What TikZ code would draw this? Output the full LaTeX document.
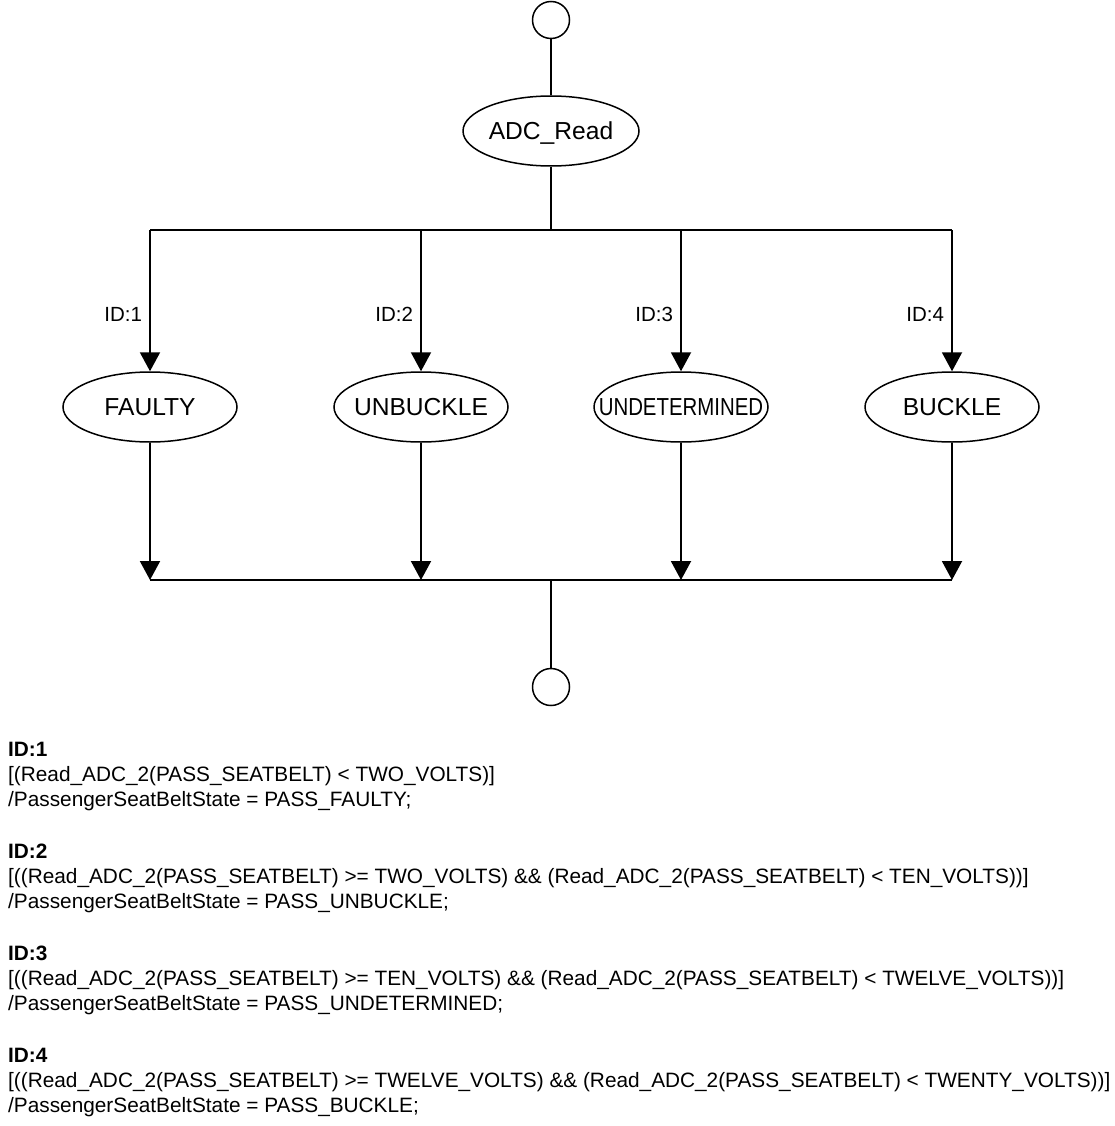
\documentclass[tikz,border=0pt]{standalone}
\usepackage{fontspec}
\setmainfont{Liberation Sans}
\usetikzlibrary{shapes.geometric,arrows.meta}

\newcommand{\stname}[1]{\makebox[0pt]{#1}}

\tikzset{
	statenode/.style = {draw, ellipse, line width=1.5pt, minimum width=174pt, minimum height=70pt,
		inner sep=0pt, font=\fontsize{24.6}{28}\selectfont, text height=17.5pt, text depth=0pt},
	pseudo/.style = {draw, circle, line width=1.5pt, minimum size=37pt, inner sep=0pt},
	flow/.style = {line width=2pt},
	tip/.style = {-{Triangle[width=20pt,length=19pt]}},
	guard/.style = {font=\fontsize{20.5}{24}\selectfont, inner sep=0pt, anchor=east, xshift=-7pt},
	cond/.style = {font=\fontsize{20.8}{24}\selectfont, inner sep=0pt, anchor=base west},
}

\begin{document}
\begin{tikzpicture}[x=1pt, y=-1pt]
	\useasboundingbox (0,0) rectangle (1115,1126);
	% states
	\node [pseudo] (init) at (551,20) {};
	\node [statenode, minimum width=176pt] (adc) at (551,131) {\stname{ADC\_Read}};
	\node [statenode] (faulty) at (150,407) {\stname{FAULTY}};
	\node [statenode] (unbuckle) at (421,407) {\stname{UNBUCKLE}};
	\node [statenode] (undet) at (681,407) {\stname{\scalebox{0.83}[1]{UNDETERMINED}}};
	\node [statenode] (buckle) at (952,407) {\stname{BUCKLE}};
	\node [pseudo] (final) at (551,687) {};
	% fork and join bars
	\coordinate (split) at (551,230);
	\coordinate (join) at (551,580);
	\draw [flow] (init) -- (adc);
	\draw [flow] (adc) -- (split);
	\draw [flow] (faulty |- split) -- (buckle |- split);
	\draw [flow] (faulty |- join) -- (buckle |- join);
	\draw [flow] (join) -- (final);
	% transitions
	\draw [flow, tip] (faulty |- split) -- (faulty.north) node [guard, pos=0.6] {ID:1};
	\draw [flow, tip] (unbuckle |- split) -- (unbuckle.north) node [guard, pos=0.6] {ID:2};
	\draw [flow, tip] (undet |- split) -- (undet.north) node [guard, pos=0.6] {ID:3};
	\draw [flow, tip] (buckle |- split) -- (buckle.north) node [guard, pos=0.6] {ID:4};
	\draw [flow, tip] (faulty) -- (faulty |- join);
	\draw [flow, tip] (unbuckle) -- (unbuckle |- join);
	\draw [flow, tip] (undet) -- (undet |- join);
	\draw [flow, tip] (buckle) -- (buckle |- join);
	% conditions
	\node [cond, font=\fontsize{20.8}{24}\selectfont\bfseries] (id1) at (8,756) {ID:1};
	\node [cond] (guard1) at (8,781) {[(Read\_ADC\_2(PASS\_SEATBELT) < TWO\_VOLTS)]};
	\node [cond] (act1) at (8,806) {/PassengerSeatBeltState = PASS\_FAULTY;};
	\node [cond, font=\fontsize{20.8}{24}\selectfont\bfseries] (id2) at (8,858) {ID:2};
	\node [cond] (guard2) at (8,883) {[((Read\_ADC\_2(PASS\_SEATBELT) >= TWO\_VOLTS) \&\& (Read\_ADC\_2(PASS\_SEATBELT) < TEN\_VOLTS))]};
	\node [cond] (act2) at (8,908) {/PassengerSeatBeltState = PASS\_UNBUCKLE;};
	\node [cond, font=\fontsize{20.8}{24}\selectfont\bfseries] (id3) at (8,960) {ID:3};
	\node [cond] (guard3) at (8,985) {[((Read\_ADC\_2(PASS\_SEATBELT) >= TEN\_VOLTS) \&\& (Read\_ADC\_2(PASS\_SEATBELT) < TWELVE\_VOLTS))]};
	\node [cond] (act3) at (8,1010) {/PassengerSeatBeltState = PASS\_UNDETERMINED;};
	\node [cond, font=\fontsize{20.8}{24}\selectfont\bfseries] (id4) at (8,1062) {ID:4};
	\node [cond] (guard4) at (8,1087) {[((Read\_ADC\_2(PASS\_SEATBELT) >= TWELVE\_VOLTS) \&\& (Read\_ADC\_2(PASS\_SEATBELT) < TWENTY\_VOLTS))]};
	\node [cond] (act4) at (8,1112) {/PassengerSeatBeltState = PASS\_BUCKLE;};
\end{tikzpicture}
\end{document}
